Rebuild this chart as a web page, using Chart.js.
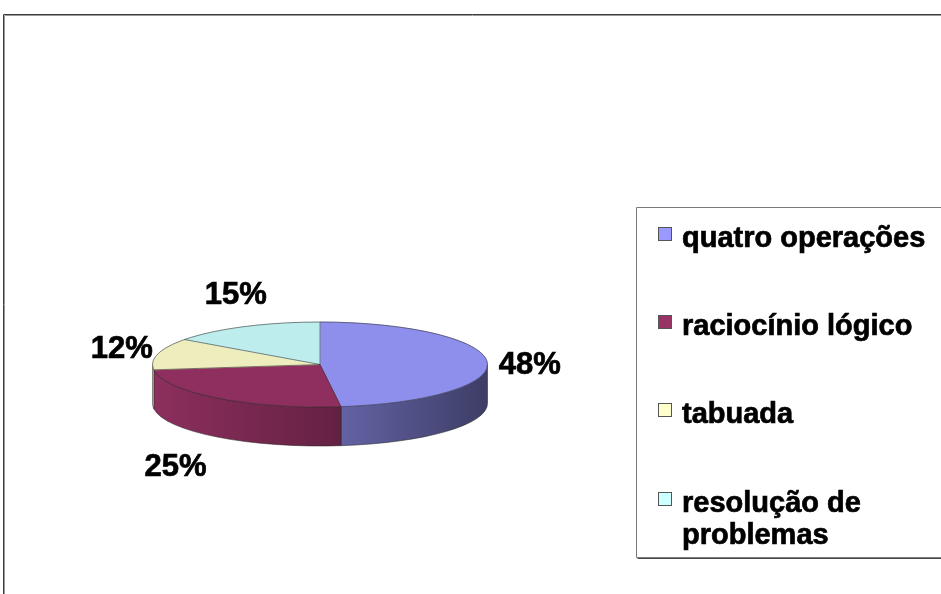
<!DOCTYPE html>
<html>
<head>
<meta charset="utf-8">
<title>Dificuldades em matemática</title>
<script src="https://cdn.jsdelivr.net/npm/chart.js@4/dist/chart.umd.min.js"></script>
<style>
  html, body { margin: 0; padding: 0; background: #fff; }
  canvas { display: block; }
</style>
</head>
<body>
<canvas id="chart-area" width="941" height="594"></canvas>
<script>
var categorias = ['quatro operações', 'raciocínio lógico', 'tabuada', 'resolução de problemas'];
var percentuais = [48, 25, 12, 15];
var cores = ['#9999FF', '#993366', '#FFFFCC', '#CCFFFF'];

// pizza "3D": elipse achatada com parede lateral
var RAIO = 167.5;
var ACHATAMENTO = 42.5 / 167.5;
var ESPESSURA = 39;
var FONTE = '"Liberation Sans", Arial, sans-serif';

function sombra(hex, f) {
    var n = parseInt(hex.slice(1), 16);
    var r = Math.round(((n >> 16) & 255) * f);
    var g = Math.round(((n >> 8) & 255) * f);
    var b = Math.round((n & 255) * f);
    return 'rgb(' + r + ',' + g + ',' + b + ')';
}

var coresTopo = cores.map(function (c) { return sombra(c, 0.93); });

function geometria(chart) {
    var arcs = chart.getDatasetMeta(0).data;
    var p = arcs[0].getProps(['x', 'y', 'outerRadius'], true);
    return { arcs: arcs, cx: p.x, cy: p.y, rx: p.outerRadius, ry: p.outerRadius * ACHATAMENTO };
}

// texto em negrito "pesado"
function textoForte(ctx, t, x, y) {
    ctx.fillText(t, x, y);
    ctx.strokeText(t, x, y);
}

var pizza3d = {
    id: 'pizza3d',
    beforeDraw: function (chart) {
        var ctx = chart.ctx;
        ctx.save();
        // moldura da área do gráfico
        ctx.lineWidth = 1;
        ctx.strokeStyle = '#3c3c3c';
        ctx.beginPath();
        ctx.moveTo(3.5, chart.height);
        ctx.lineTo(3.5, 14.5);
        ctx.lineTo(chart.width, 14.5);
        ctx.stroke();
        ctx.strokeStyle = '#9a9a9a';
        ctx.beginPath();
        ctx.moveTo(4.5, chart.height);
        ctx.lineTo(4.5, 15.5);
        ctx.lineTo(chart.width, 15.5);
        ctx.stroke();
        ctx.restore();
    },
    beforeDatasetsDraw: function (chart) {
        var ctx = chart.ctx;
        var g = geometria(chart);
        ctx.save();
        g.arcs.forEach(function (arc, i) {
            var p = arc.getProps(['startAngle', 'endAngle'], true);
            var a = Math.max(p.startAngle, 0);
            var b = Math.min(p.endAngle, Math.PI);
            if (b <= a) return;
            var grad = ctx.createLinearGradient(g.cx - g.rx, 0, g.cx + g.rx, 0);
            grad.addColorStop(0, sombra(cores[i], 0.92));
            grad.addColorStop(0.5, sombra(cores[i], 0.68));
            grad.addColorStop(1, sombra(cores[i], 0.4));
            ctx.beginPath();
            ctx.ellipse(g.cx, g.cy, g.rx, g.ry, 0, a, b);
            ctx.lineTo(g.cx + g.rx * Math.cos(b), g.cy + g.ry * Math.sin(b) + ESPESSURA);
            ctx.ellipse(g.cx, g.cy + ESPESSURA, g.rx, g.ry, 0, b, a, true);
            ctx.closePath();
            ctx.fillStyle = grad;
            ctx.fill();
            ctx.lineWidth = 1;
            ctx.strokeStyle = 'rgba(40,40,40,0.55)';
            ctx.stroke();
        });
        ctx.restore();
        // o topo é desenhado pelo Chart.js num plano achatado
        ctx.save();
        ctx.translate(g.cx, g.cy);
        ctx.scale(1, ACHATAMENTO);
        ctx.translate(-g.cx, -g.cy);
    },
    afterDatasetsDraw: function (chart) {
        var ctx = chart.ctx;
        ctx.restore();
        var g = geometria(chart);
        ctx.save();
        ctx.lineWidth = 1;
        ctx.strokeStyle = 'rgba(40,40,40,0.55)';
        g.arcs.forEach(function (arc) {
            var a = arc.getProps(['startAngle'], true).startAngle;
            ctx.beginPath();
            ctx.moveTo(g.cx, g.cy);
            ctx.lineTo(g.cx + g.rx * Math.cos(a), g.cy + g.ry * Math.sin(a));
            ctx.stroke();
        });
        ctx.beginPath();
        ctx.ellipse(g.cx, g.cy, g.rx, g.ry, 0, 0, Math.PI * 2);
        ctx.stroke();

        // rótulos de porcentagem
        ctx.fillStyle = '#000';
        ctx.strokeStyle = '#000';
        ctx.lineWidth = 0.7;
        ctx.font = 'bold 31px ' + FONTE;
        ctx.textAlign = 'center';
        ctx.textBaseline = 'middle';
        g.arcs.forEach(function (arc, i) {
            var p = arc.getProps(['startAngle', 'endAngle'], true);
            var m = (p.startAngle + p.endAngle) / 2;
            var s = Math.sin(m);
            var lx = g.cx + (212 + 30 * s) * Math.cos(m);
            var ly = g.cy + 84 * s + 6 + (s > 0 ? ESPESSURA * s : 0);
            textoForte(ctx, percentuais[i] + '%', lx, ly);
        });
        ctx.restore();
    },
    afterDraw: function (chart) {
        var ctx = chart.ctx;
        ctx.save();
        // caixa da legenda
        var bx = 636.5, by = 207.5, bb = 557.5;
        ctx.fillStyle = '#fff';
        ctx.fillRect(bx, by, chart.width - bx, bb - by);
        ctx.lineWidth = 1;
        ctx.strokeStyle = '#7a7a7a';
        ctx.beginPath();
        ctx.moveTo(chart.width, by);
        ctx.lineTo(bx, by);
        ctx.lineTo(bx, bb);
        ctx.lineTo(chart.width, bb);
        ctx.stroke();
        ctx.strokeStyle = '#4a4a4a';
        ctx.beginPath();
        ctx.moveTo(bx + 1, bb + 1);
        ctx.lineTo(chart.width, bb + 1);
        ctx.stroke();

        ctx.font = 'bold 29px ' + FONTE;
        ctx.textAlign = 'left';
        ctx.textBaseline = 'alphabetic';
        var linhas = [247, 335, 423, 512];
        categorias.forEach(function (rotulo, i) {
            var base = linhas[i];
            ctx.lineWidth = 1;
            ctx.fillStyle = cores[i];
            ctx.fillRect(658.5, base - 19.5, 13, 13);
            ctx.strokeStyle = '#555';
            ctx.strokeRect(658.5, base - 19.5, 13, 13);
            ctx.fillStyle = '#000';
            ctx.strokeStyle = '#000';
            ctx.lineWidth = 0.7;
            // quebra de linha simples por palavra
            var palavras = rotulo.split(' ');
            var linha = '';
            var y = base;
            palavras.forEach(function (w) {
                var teste = linha ? linha + ' ' + w : w;
                if (linha && ctx.measureText(teste).width > 250) {
                    textoForte(ctx, linha, 682, y);
                    linha = w;
                    y += 32;
                } else {
                    linha = teste;
                }
            });
            textoForte(ctx, linha, 682, y);
        });
        ctx.restore();
    }
};

var config = {
    type: 'pie',
    data: {
        labels: categorias,
        datasets: [{
            data: percentuais,
            backgroundColor: coresTopo,
            borderColor: coresTopo,
            borderWidth: 1,
            clip: false
        }]
    },
    options: {
        responsive: false,
        devicePixelRatio: 1,
        animation: false,
        events: [],
        radius: RAIO,
        layout: {
            padding: { left: 0, right: 301, top: 135, bottom: 0 }
        },
        plugins: {
            legend: { display: false },
            tooltip: { enabled: false }
        }
    },
    plugins: [pizza3d]
};

var ctx = document.getElementById('chart-area').getContext('2d');
var grafico = new Chart(ctx, config);
</script>
</body>
</html>
